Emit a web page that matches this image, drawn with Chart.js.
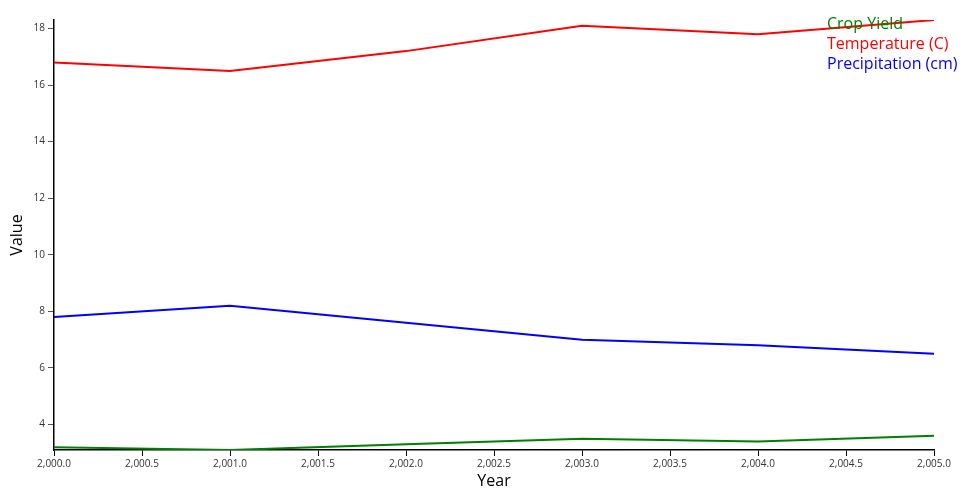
<!DOCTYPE html>
<html>
<head>
<meta charset="utf-8">
<script src="https://cdn.jsdelivr.net/npm/chart.js@4"></script>
<style>
  html, body { margin: 0; padding: 0; background: #fff; }
  #wrap { width: 960px; height: 500px; }
</style>
</head>
<body>
<div id="wrap"><canvas id="chart" width="960" height="500"></canvas></div>
<script>
// données
const years = [2000, 2001, 2002, 2003, 2004, 2005];
const cropYield = [3.2, 3.1, 3.3, 3.5, 3.4, 3.6];
const temperature = [16.8, 16.5, 17.2, 18.1, 17.8, 18.3];
const precipitation = [7.8, 8.2, 7.6, 7.0, 6.8, 6.5];
const yTicks = [4, 6, 8, 10, 12, 14, 16, 18];
const xTicks = [2000, 2000.5, 2001, 2001.5, 2002, 2002.5, 2003, 2003.5, 2004, 2004.5, 2005];

const toPoints = vals => years.map((y, i) => ({ x: y, y: vals[i] }));

// Légende en texte coloré, en haut à droite
const textLegend = {
    id: 'textLegend',
    afterDatasetsDraw(chart) {
        const ctx = chart.ctx;
        ctx.save();
        ctx.font = '16px "Open Sans"';
        ctx.textBaseline = 'middle';
        ctx.textAlign = 'left';
        chart.data.datasets.forEach((ds, i) => {
            ctx.fillStyle = ds.borderColor;
            ctx.fillText(ds.label, 827, 24 + i * 20);
        });
        ctx.restore();
    }
};

Chart.defaults.font.family = '"Open Sans"';

new Chart(document.getElementById('chart'), {
    type: 'line',
    data: {
        datasets: [{
            label: 'Crop Yield',
            data: toPoints(cropYield),
            borderColor: 'green',
            borderWidth: 2,
            pointRadius: 0,
            tension: 0
        }, {
            label: 'Temperature (C)',
            data: toPoints(temperature),
            borderColor: 'red',
            borderWidth: 2,
            pointRadius: 0,
            tension: 0
        }, {
            label: 'Precipitation (cm)',
            data: toPoints(precipitation),
            borderColor: 'blue',
            borderWidth: 2,
            pointRadius: 0,
            tension: 0
        }]
    },
    options: {
        responsive: false,
        animation: false,
        layout: { padding: { top: 20, right: 26, left: 0, bottom: 0 } },
        plugins: {
            legend: { display: false },
            tooltip: { enabled: false }
        },
        scales: {
            x: {
                type: 'linear',
                min: 2000,
                max: 2005,
                afterBuildTicks: axis => { axis.ticks = xTicks.map(v => ({ value: v })); },
                afterFit: axis => { axis.height = 50; },
                ticks: {
                    color: '#333',
                    font: { size: 10 },
                    padding: 2,
                    maxRotation: 0,
                    autoSkip: false,
                    callback: v => v.toLocaleString('en-US', { minimumFractionDigits: 1, maximumFractionDigits: 1 })
                },
                grid: { drawOnChartArea: false, color: '#000', tickLength: 6 },
                border: { color: '#000', width: 1.5 },
                title: { display: true, text: 'Year', color: '#000', font: { size: 16 }, padding: { top: 4, bottom: 9 } }
            },
            y: {
                min: Math.min(...cropYield),
                max: Math.max(...temperature),
                afterBuildTicks: axis => { axis.ticks = yTicks.map(v => ({ value: v })); },
                afterFit: axis => { axis.width = 54; },
                ticks: {
                    color: '#333',
                    font: { size: 10 },
                    padding: 3,
                    autoSkip: false
                },
                grid: { drawOnChartArea: false, color: '#555', tickLength: 6 },
                border: { color: '#000', width: 1.5 },
                title: { display: true, text: 'Value', color: '#000', font: { size: 16 }, padding: { top: 8, bottom: 4 } }
            }
        }
    },
    plugins: [textLegend]
});
</script>
</body>
</html>
